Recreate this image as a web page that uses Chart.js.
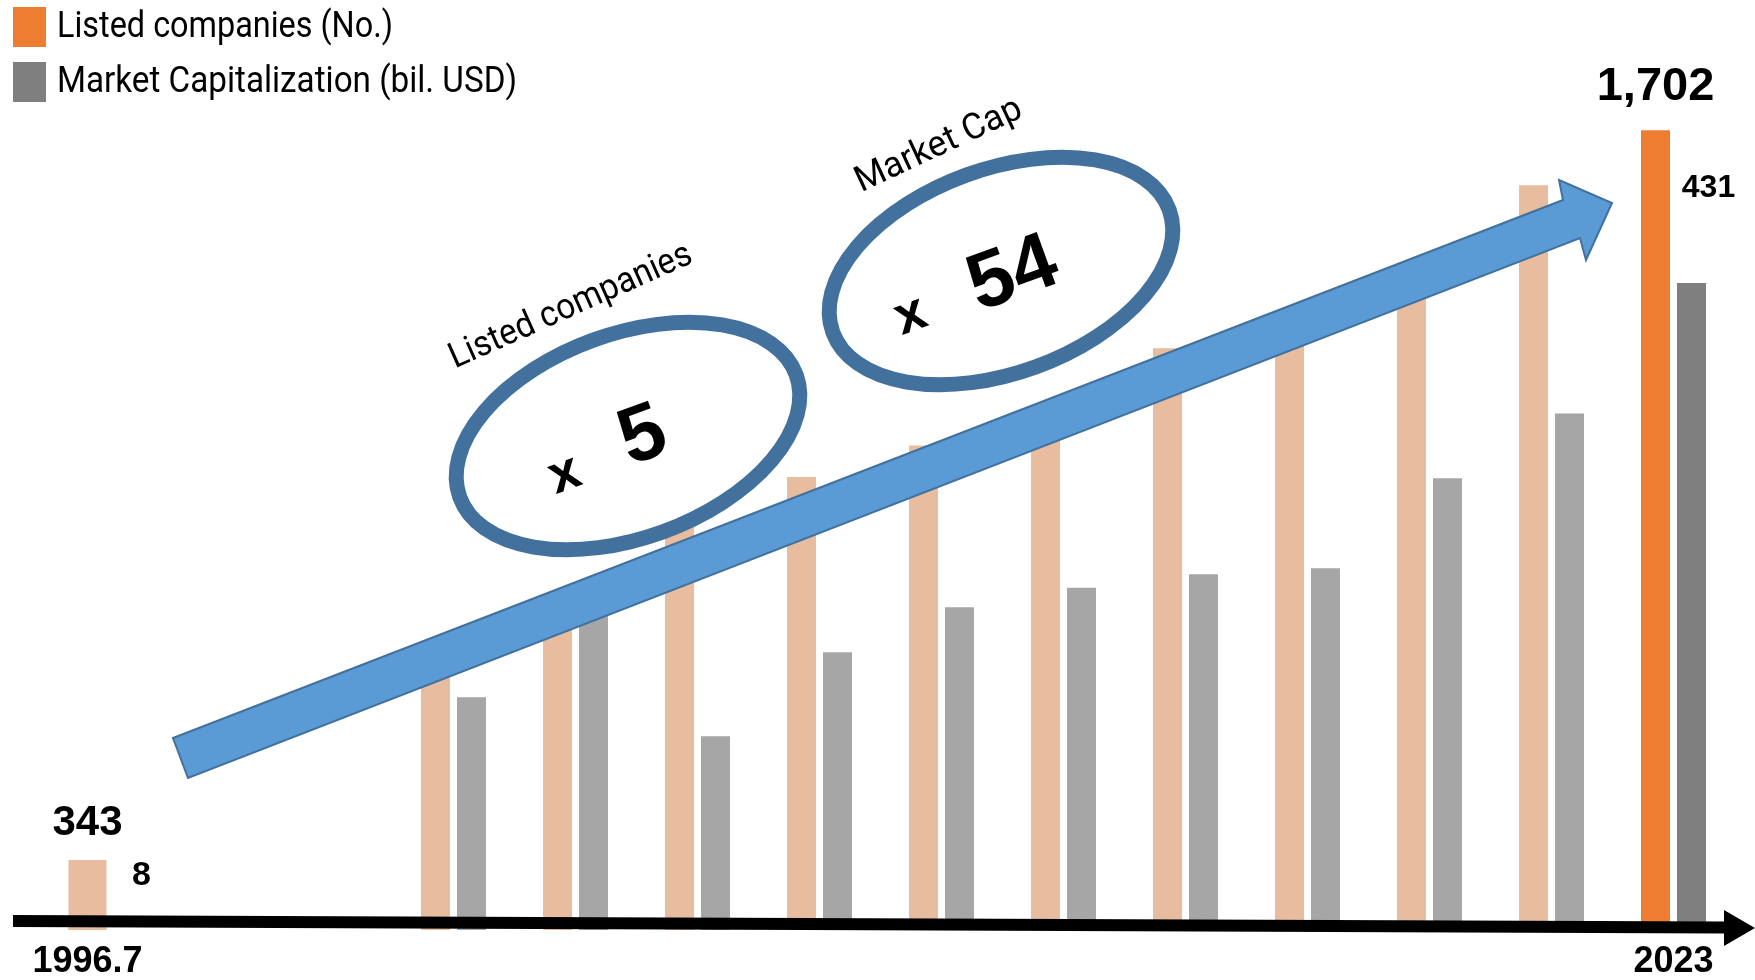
<!DOCTYPE html>
<html>
<head>
<meta charset="utf-8">
<script src="https://cdn.jsdelivr.net/npm/chart.js@4.4.1/dist/chart.umd.min.js"></script>
<style>
  html, body { margin: 0; padding: 0; background: #fff; }
  #wrap { width: 1755px; height: 980px; }
</style>
</head>
<body>
<div id="wrap"><canvas id="chart" width="1755" height="980"></canvas></div>
<script>
// first category sits on its own (broken) scale, the rest are the yearly pairs up to 2023
const categories = ['1996.7', '', '', '', '', '', '', '', '', '', '', '', '', '2023'];
const listedCompanies = [343, null, null, 581, 685, 890, 964, 1031, 1096, 1238, 1287, 1387, 1585, 1702];
const marketCap = [8, null, null, 155, 222, 129, 185, 215, 228, 237, 241, 301, 344, 431];

const lastIdx = categories.length - 1;
const ORANGE = '#ED7D31', ORANGE_FADED = '#E8BD9F';
const GREY = '#7F7F7F', GREY_FADED = '#A6A6A6';
const NUM_FONT = '"Liberation Sans", Arial, sans-serif';
const NARROW_FONT = '"Liberation Sans Narrow", "Liberation Sans", Arial, sans-serif';

const onlyFirst = arr => arr.map((v, i) => i === 0 ? v : null);
const exceptFirst = arr => arr.map((v, i) => i === 0 ? null : v);

// thick black axis arrow, blue trend arrow, circled multipliers
const decor = {
  id: 'decor',
  afterDatasetsDraw(chart) {
    const ctx = chart.ctx;
    ctx.save();

    ctx.fillStyle = '#000';
    ctx.beginPath();
    ctx.moveTo(13, 915);
    ctx.lineTo(1724, 921.5);
    ctx.lineTo(1724, 910);
    ctx.lineTo(1755, 928);
    ctx.lineTo(1724, 946);
    ctx.lineTo(1724, 933.5);
    ctx.lineTo(13, 927);
    ctx.closePath();
    ctx.fill();

    ctx.beginPath();
    ctx.moveTo(173, 738);
    ctx.lineTo(1563, 200);
    ctx.lineTo(1559, 180);
    ctx.lineTo(1612, 203);
    ctx.lineTo(1586, 260);
    ctx.lineTo(1580, 238);
    ctx.lineTo(188, 778);
    ctx.closePath();
    ctx.fillStyle = '#5B9BD5';
    ctx.fill();
    ctx.lineWidth = 2;
    ctx.strokeStyle = '#41719C';
    ctx.stroke();

    const rot = -20 * Math.PI / 180;
    [[628, 436], [1001, 271]].forEach(([cx, cy]) => {
      ctx.beginPath();
      ctx.ellipse(cx, cy, 179, 102, rot, 0, Math.PI * 2);
      ctx.fillStyle = '#fff';
      ctx.fill();
      ctx.lineWidth = 15;
      ctx.strokeStyle = '#41719C';
      ctx.stroke();
    });

    ctx.fillStyle = '#000';
    ctx.textAlign = 'center';
    ctx.textBaseline = 'alphabetic';
    const rotText = (txt, x, y, font, angle, lift, maxW) => {
      ctx.save();
      ctx.translate(x, y);
      ctx.rotate(angle * Math.PI / 180);
      ctx.font = font;
      if (maxW) ctx.fillText(txt, 0, lift, maxW);
      else ctx.fillText(txt, 0, lift);
      ctx.restore();
    };
    rotText('x', 565, 476, 'bold 54px ' + NARROW_FONT, -20, 14);
    rotText('5', 641, 431, 'bold 80px ' + NARROW_FONT, -20, 29);
    rotText('x', 911, 317, 'bold 54px ' + NARROW_FONT, -20, 14);
    rotText('54', 1011, 269, 'bold 80px ' + NARROW_FONT, -20, 29);

    ctx.textBaseline = 'middle';
    rotText('Listed companies', 571, 307, '36px Roboto', -24, 0, 262);
    rotText('Market Cap', 939, 146, '36px Roboto', -25, 0, 180);
    ctx.restore();
  }
};

// numbers above the first and last bars
const valueLabels = {
  id: 'valueLabels',
  afterDatasetsDraw(chart) {
    const ctx = chart.ctx;
    chart.data.datasets.forEach((ds, di) => {
      const lab = ds.valueLabel;
      if (!lab) return;
      const bar = chart.getDatasetMeta(di).data[lab.index];
      if (!bar) return;
      ctx.save();
      ctx.font = lab.font;
      ctx.fillStyle = '#000';
      ctx.textAlign = 'center';
      ctx.textBaseline = 'alphabetic';
      ctx.fillText(ds.data[lab.index].toLocaleString('en-US'), bar.x + lab.dx, bar.y + lab.dy);
      ctx.restore();
    });
  }
};

// stacked legend in the top left corner
const legendBoxes = {
  id: 'legendBoxes',
  afterDraw(chart) {
    const ctx = chart.ctx;
    const items = chart.data.datasets.filter(ds => ds.legendColor);
    ctx.save();
    items.forEach((ds, i) => {
      const y = 7 + i * 55;
      ctx.fillStyle = ds.legendColor;
      ctx.fillRect(13, y, 33, 40);
      ctx.fillStyle = '#000';
      ctx.font = '36px Roboto';
      ctx.textAlign = 'left';
      ctx.textBaseline = 'middle';
      ctx.fillText(ds.label, 57, y + 21, ds.legendWidth);
    });
    ctx.restore();
  }
};

new Chart(document.getElementById('chart'), {
  type: 'bar',
  data: {
    labels: categories,
    datasets: [
      {
        label: 'Listed companies (No.)',
        data: exceptFirst(listedCompanies),
        yAxisID: 'y',
        backgroundColor: categories.map((_, i) => i === lastIdx ? ORANGE : ORANGE_FADED),
        legendColor: ORANGE,
        legendWidth: 336,
        categoryPercentage: 0.59,
        barPercentage: 0.806,
        valueLabel: { index: lastIdx, font: 'bold 47px ' + NUM_FONT, dx: 0, dy: -30 }
      },
      {
        label: 'Market Capitalization (bil. USD)',
        data: exceptFirst(marketCap),
        yAxisID: 'y2',
        backgroundColor: categories.map((_, i) => i === lastIdx ? GREY : GREY_FADED),
        legendColor: GREY,
        legendWidth: 460,
        categoryPercentage: 0.59,
        barPercentage: 0.806,
        valueLabel: { index: lastIdx, font: 'bold 32px ' + NUM_FONT, dx: 17, dy: -86 }
      },
      {
        label: 'Listed companies 1996.7',
        data: onlyFirst(listedCompanies),
        yAxisID: 'y3',
        grouped: false,
        order: 0,
        backgroundColor: ORANGE_FADED,
        categoryPercentage: 1,
        barPercentage: 0.32,
        maxBarThickness: 38,
        valueLabel: { index: 0, font: 'bold 42px ' + NUM_FONT, dx: 0, dy: -25 }
      },
      {
        label: 'Market Capitalization 1996.7',
        data: onlyFirst(marketCap),
        yAxisID: 'y3',
        grouped: false,
        order: 1,
        backgroundColor: GREY_FADED,
        categoryPercentage: 1,
        barPercentage: 0.32,
        maxBarThickness: 38,
        valueLabel: { index: 0, font: 'bold 34px ' + NUM_FONT, dx: 54, dy: -43 }
      }
    ]
  },
  options: {
    responsive: false,
    animation: false,
    layout: { padding: { left: 26.5, right: 20.5, top: 0, bottom: 0 } },
    scales: {
      x: {
        offset: true,
        grid: { display: false, drawTicks: false },
        border: { display: false },
        ticks: {
          autoSkip: false,
          maxRotation: 0,
          padding: 10,
          color: '#000',
          font: { family: NUM_FONT, weight: 'bold', size: 36 }
        },
        afterFit: scale => { scale.height = 50; }
      },
      y: { display: false, min: 0, max: 1979 },
      y2: { display: false, min: 0, max: 619.5 },
      y3: { display: false, min: 0, max: 4557 }
    },
    plugins: {
      legend: { display: false },
      tooltip: { enabled: true }
    }
  },
  plugins: [decor, valueLabels, legendBoxes]
});
</script>
</body>
</html>
